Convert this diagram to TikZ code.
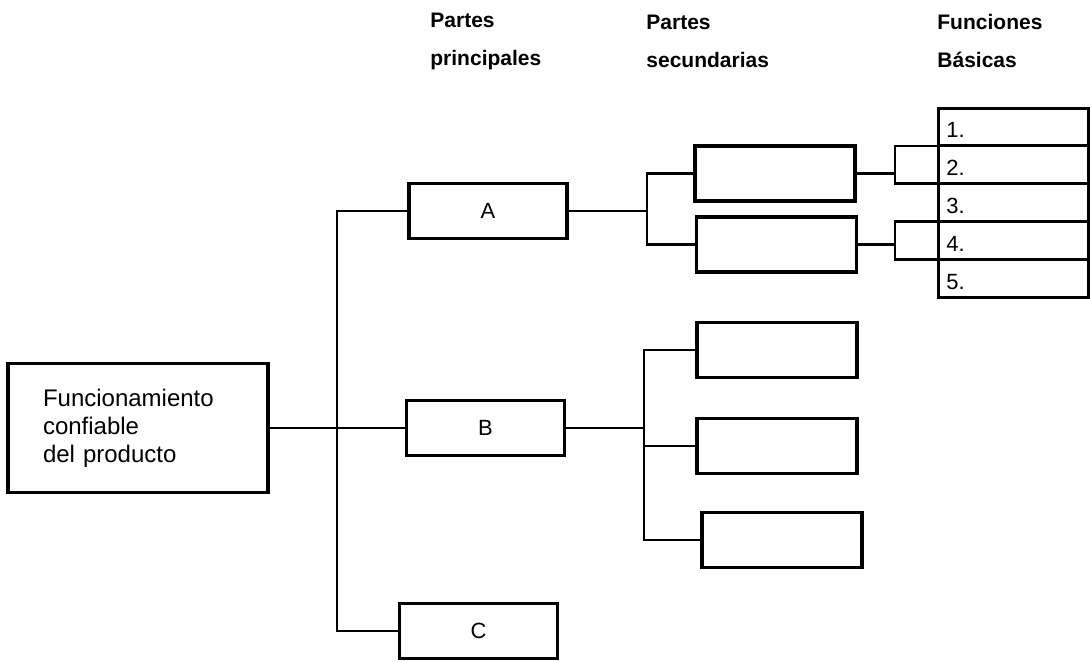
\documentclass[tikz,border=0pt]{standalone}
\usepackage{fontspec}
\setmainfont{Liberation Sans}
\usetikzlibrary{positioning}

\begin{document}
\begin{tikzpicture}[
    x=0.5pt, y=-0.5pt,
    every node/.style={font=\fontsize{11}{13.75}\selectfont},
    heading/.style={anchor=west, align=left, inner sep=0pt, font=\fontsize{10.5}{19}\selectfont\bfseries},
    goal/.style={rectangle, draw=black, line width=1.6pt, outer sep=0pt, text width=95pt, inner xsep=17.5pt, minimum height=64.5pt, align=left, font=\fontsize{12}{14}\selectfont},
    part/.style={rectangle, draw=black, line width=1.6pt, outer sep=0pt, minimum width=79pt, minimum height=27.5pt, inner sep=0pt},
    subpart/.style={part, minimum width=80pt},
    func/.style={rectangle, draw=black, line width=1.5pt, outer sep=0pt, minimum width=75pt, minimum height=18.9pt, inner sep=0pt},
    funclabel/.style={anchor=base west, inner sep=0pt},
    link/.style={line width=1.3pt}
]
\useasboundingbox (0,0) rectangle (1090,661);

% ==== Column headings ====
\node[heading] (hmain) at (430,41) {Partes\\principales};
\node[heading] (hsub) at (646,41) {Partes\\secundarias};
\node[heading] (hfunc) at (937,41) {Funciones\\Básicas};

% ==== Product ====
\node[goal] (root) at (138,428) {Funcionamiento\\confiable\\del producto};

% ==== Main parts ====
\node[part] (A) at (488,211) {A};
\node[part] (B) at (485.5,428) {B};
\node[part] (C) at (478.5,631) {C};

% ==== Secondary parts ====
\node[subpart] (s1) at (775,173.5) {};
\node[subpart] (s2) at (776.5,244.5) {};
\node[subpart] (s3) at (777,350) {};
\node[subpart] (s4) at (777,446) {};
\node[subpart] (s5) at (782,540) {};

% ==== Basic functions ====
\node[func] (f1) at (1013,126.9) {};
\node[func, below=0pt of f1] (f2) {};
\node[func, below=0pt of f2] (f3) {};
\node[func, below=0pt of f3] (f4) {};
\node[func, below=0pt of f4] (f5) {};
\foreach \i in {1,...,5}
    \node[funclabel] at ([shift={(8,-8)}]f\i.south west) {\i.};

% ==== Branch points ====
\coordinate (trunk) at (337,211);
\coordinate (splitA) at (647,211);
\coordinate (splitB) at (644,428);
\coordinate (fa) at (895,173.5);
\coordinate (fb) at (895,244.5);

% ==== Relations ====
\draw[link] (root.east) -- (B.west);
\draw[link] (A.west) -- (trunk) |- (C.west);
\draw[link] (A.east) -- (splitA);
\draw[link] (s1.west) -| (splitA) |- (s2.west);
\draw[link] (B.east) -- (splitB);
\draw[link] (s3.west) -| (splitB) |- (s5.west);
\draw[link] (splitB |- s4.west) -- (s4.west);
\draw[link] (s1.east) -- (fa);
\draw[link] (f2.north west) -| (fa) |- (f2.south west);
\draw[link] (s2.east) -- (fb);
\draw[link] (f4.north west) -| (fb) |- (f4.south west);

\end{tikzpicture}
\end{document}
